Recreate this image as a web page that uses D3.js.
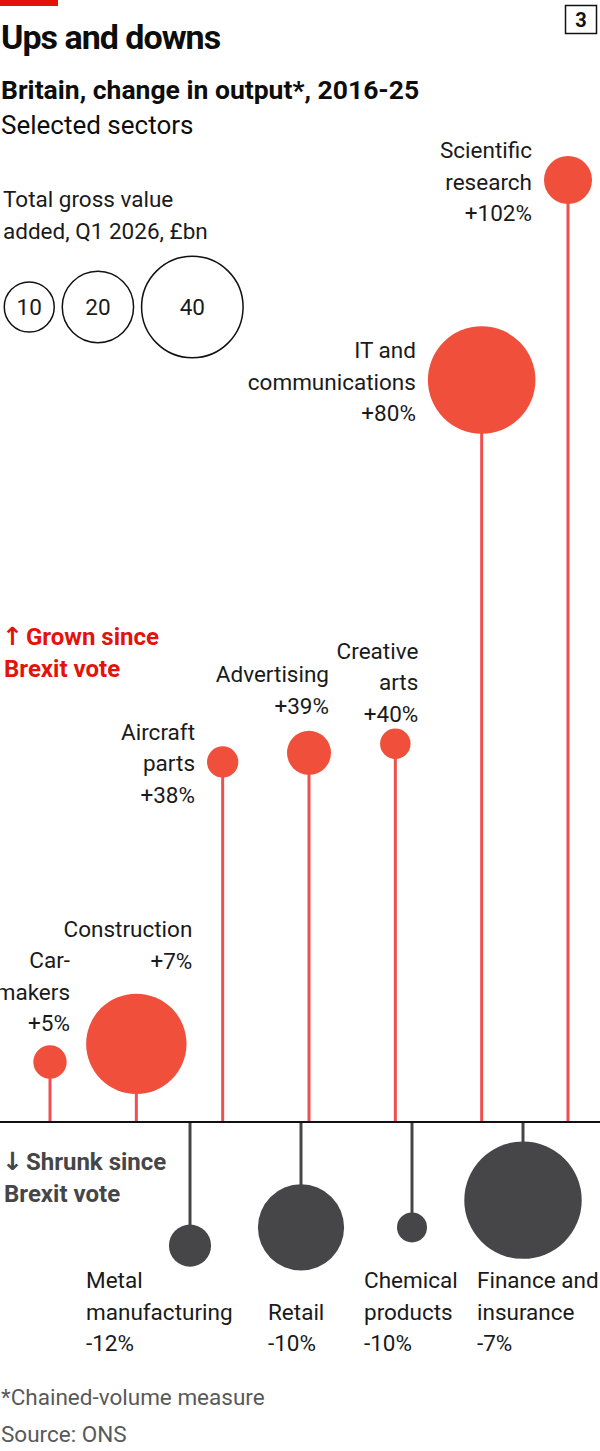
<!DOCTYPE html>
<html>
<head>
<meta charset="utf-8">
<script src="https://cdn.jsdelivr.net/npm/d3@7"></script>
<style>
  body { margin: 0; background: #fff; }
  svg { display: block; font-family: Roboto, "Noto Sans", sans-serif; }
</style>
</head>
<body>
<svg id="chart" width="600" height="1451"></svg>
<script>
// sectors that grew since 2016 (left to right)
var grownSectors = ["Carmakers", "Construction", "Aircraft parts", "Advertising", "Creative arts", "IT and communications", "Scientific research"];
var grownLabels = [["Car-", "makers"], ["Construction"], ["Aircraft", "parts"], ["Advertising"], ["Creative", "arts"], ["IT and", "communications"], ["Scientific", "research"]];
var grownChange = [5, 7, 38, 39, 40, 80, 102];
var grownGVA = [4.2, 38, 3.7, 7.3, 3.5, 43.6, 8.7];

// sectors that shrank
var shrunkSectors = ["Metal manufacturing", "Retail", "Chemical products", "Finance and insurance"];
var shrunkLabels = [["Metal", "manufacturing"], ["Retail"], ["Chemical", "products"], ["Finance and", "insurance"]];
var shrunkChange = [-12, -10, -10, -7];
var shrunkGVA = [6.7, 28, 3.4, 52];

var legendValues = [10, 20, 40];

var RED = "#e3120b", CIRCLE_RED = "#ef4f3b", STEM_RED = "#f04f4f", DARK = "#464648";
var FS = 22.5;

var svg = d3.select("#chart");
var baseY = 1122;

var xGrown = d3.scalePoint().domain(grownSectors).range([50, 568]);
var xShrunk = d3.scalePoint().domain(shrunkSectors).range([190, 523]);
var dist = d3.scaleLinear().domain([0, 102]).range([14.5, 942]);
var r = d3.scaleSqrt().domain([0, 40]).range([0, 51.5]);

// label placement: "left" = beside circle, "above" = over circle
var grownLayout = {
	"Carmakers": { mode: "above", dx: 20, gap: 14 },
	"Construction": { mode: "above", dx: 56, gap: 25 },
	"Aircraft parts": { mode: "left" },
	"Advertising": { mode: "above", dx: 20, gap: 17 },
	"Creative arts": { mode: "above", dx: 23, gap: 7 },
	"IT and communications": { mode: "left" },
	"Scientific research": { mode: "left" }
};
var shrunkDx = { "Metal manufacturing": -104, "Retail": -33, "Chemical products": -48, "Finance and insurance": -46 };
var lineH = 31.5;

// header
svg.append("rect").attr("x", 0).attr("y", 0).attr("width", 58).attr("height", 6).attr("fill", RED);
svg.append("text").attr("x", 1).attr("y", 49)
	.attr("font-size", 34).attr("font-weight", 700).attr("letter-spacing", -1)
	.attr("fill", "#0d0d0d").text("Ups and downs");
svg.append("rect").attr("x", 565.5).attr("y", 5.5).attr("width", 31).attr("height", 28)
	.attr("fill", "none").attr("stroke", "#111").attr("stroke-width", 1.5);
svg.append("text").attr("x", 581).attr("y", 27).attr("text-anchor", "middle")
	.attr("font-size", 20).attr("font-weight", 700).attr("fill", "#111").text("3");
svg.append("text").attr("x", 1).attr("y", 99)
	.attr("font-size", 26.5).attr("font-weight", 700)
	.attr("fill", "#0d0d0d").text("Britain, change in output*, 2016-25");
svg.append("text").attr("x", 1).attr("y", 134)
	.attr("font-size", 26).attr("fill", "#0d0d0d").text("Selected sectors");

// legend
var leg = svg.append("g");
leg.selectAll("text.lt").data(["Total gross value", "added, Q1 2026, £bn"]).enter().append("text")
	.attr("class", "lt").attr("x", 3).attr("y", function(d, i) { return 207 + i * lineH; })
	.attr("font-size", FS).attr("fill", "#1a1a1a").text(function(d) { return d; });

var lx = 3.5, legPos = [];
legendValues.forEach(function(v) {
	var rr = r(v);
	legPos.push({ v: v, cx: lx + rr, r: rr });
	lx += 2 * rr + 6.5;
});
var lg = leg.selectAll("g.lc").data(legPos).enter().append("g").attr("class", "lc");
lg.append("circle").attr("cx", function(d) { return d.cx; }).attr("cy", 307)
	.attr("r", function(d) { return d.r - 0.75; })
	.attr("fill", "none").attr("stroke", "#111").attr("stroke-width", 1.5);
lg.append("text").attr("x", function(d) { return d.cx; }).attr("y", 315)
	.attr("text-anchor", "middle").attr("font-size", FS).attr("fill", "#1a1a1a")
	.text(function(d) { return d.v; });

// section labels
function sectionLabel(y, arrow, first, colour) {
	var t = svg.append("text").attr("x", 2).attr("y", y).attr("font-size", 24)
		.attr("font-weight", 700).attr("fill", colour);
	t.append("tspan").attr("font-family", "'DejaVu Sans', sans-serif").attr("font-size", 25).text(arrow);
	t.append("tspan").attr("dx", 3).text(first);
}
sectionLabel(645, "\u2191", "Grown since", RED);
svg.append("text").attr("x", 4).attr("y", 677).attr("font-size", 24).attr("font-weight", 700)
	.attr("fill", RED).text("Brexit vote");
sectionLabel(1170, "\u2193", "Shrunk since", DARK);
svg.append("text").attr("x", 4).attr("y", 1202).attr("font-size", 24).attr("font-weight", 700)
	.attr("fill", DARK).text("Brexit vote");

// data rows
var grown = grownSectors.map(function(s, i) {
	return { name: s, lines: grownLabels[i].concat(["+" + grownChange[i] + "%"]), change: grownChange[i], gva: grownGVA[i] };
});
var shrunk = shrunkSectors.map(function(s, i) {
	return { name: s, lines: shrunkLabels[i].concat([shrunkChange[i] + "%"]), change: shrunkChange[i], gva: shrunkGVA[i] };
});

// stems
svg.append("g").selectAll("line").data(grown).enter().append("line")
	.attr("x1", function(d) { return xGrown(d.name); }).attr("x2", function(d) { return xGrown(d.name); })
	.attr("y1", baseY).attr("y2", function(d) { return baseY - dist(d.change); })
	.attr("stroke", STEM_RED).attr("stroke-width", 3);
svg.append("g").selectAll("line").data(shrunk).enter().append("line")
	.attr("x1", function(d) { return xShrunk(d.name); }).attr("x2", function(d) { return xShrunk(d.name); })
	.attr("y1", baseY).attr("y2", function(d) { return baseY + dist(-d.change); })
	.attr("stroke", DARK).attr("stroke-width", 3);

// zero line
svg.append("line").attr("x1", 0).attr("x2", 600).attr("y1", baseY).attr("y2", baseY)
	.attr("stroke", "#111").attr("stroke-width", 2);

// circles
svg.append("g").selectAll("circle").data(grown).enter().append("circle")
	.attr("cx", function(d) { return xGrown(d.name); })
	.attr("cy", function(d) { return baseY - dist(d.change); })
	.attr("r", function(d) { return r(d.gva); })
	.attr("fill", CIRCLE_RED);
svg.append("g").selectAll("circle").data(shrunk).enter().append("circle")
	.attr("cx", function(d) { return xShrunk(d.name); })
	.attr("cy", function(d) { return baseY + dist(-d.change); })
	.attr("r", function(d) { return r(d.gva); })
	.attr("fill", DARK);

// grown labels
grown.forEach(function(d) {
	var cx = xGrown(d.name), cy = baseY - dist(d.change), rr = r(d.gva);
	var lay = grownLayout[d.name];
	var n = d.lines.length, x, y0;
	if (lay.mode === "left") {
		x = cx - rr - 12;
		y0 = cy - 22;
	} else {
		x = cx + lay.dx;
		y0 = cy - rr - lay.gap - (n - 1) * lineH;
	}
	svg.append("g").selectAll("text").data(d.lines).enter().append("text")
		.attr("x", x).attr("y", function(t, i) { return y0 + i * lineH; })
		.attr("text-anchor", "end").attr("font-size", FS).attr("fill", "#1a1a1a")
		.text(function(t) { return t; });
});

// shrunk labels, bottom-aligned
shrunk.forEach(function(d) {
	var x = xShrunk(d.name) + shrunkDx[d.name];
	var n = d.lines.length;
	svg.append("g").selectAll("text").data(d.lines).enter().append("text")
		.attr("x", x).attr("y", function(t, i) { return 1351 - (n - 1 - i) * lineH; })
		.attr("font-size", FS).attr("fill", "#1a1a1a")
		.text(function(t) { return t; });
});

// footnotes
svg.append("text").attr("x", 1).attr("y", 1405).attr("font-size", 22.5).attr("fill", "#595959")
	.text("*Chained-volume measure");
svg.append("text").attr("x", 1).attr("y", 1442).attr("font-size", 22.5).attr("fill", "#595959")
	.text("Source: ONS");
</script>
</body>
</html>
